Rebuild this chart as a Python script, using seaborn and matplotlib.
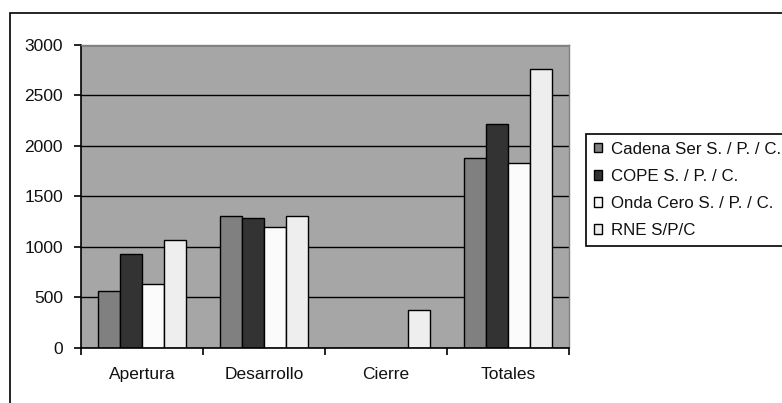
import matplotlib
matplotlib.use("Agg")
import matplotlib.pyplot as plt
from matplotlib.patches import Rectangle
import seaborn as sns
import pandas as pd

# Audience figures by programme section and station
categories = ["Apertura", "Desarrollo", "Cierre", "Totales"]
stations = ["Cadena Ser S. / P. / C.", "COPE S. / P. / C.",
            "Onda Cero S. / P. / C.", "RNE S/P/C"]
cadena_ser = [560, 1300, 0, 1875]
cope = [930, 1285, 0, 2220]
onda_cero = [625, 1200, 0, 1830]
rne = [1070, 1300, 375, 2760]
y_ticks = [0, 500, 1000, 1500, 2000, 2500, 3000]

series = [cadena_ser, cope, onda_cero, rne]
df = pd.DataFrame({
    "categoria": [c for _ in stations for c in categories],
    "emisora": [s for s in stations for _ in categories],
    "valor": [v for vals in series for v in vals],
})

palette = ["#808080", "#333333", "#fbfbfb", "#eeeeee"]

sns.set_theme(style="white")
plt.rcParams["font.family"] = ["Liberation Sans", "DejaVu Sans"]

fig = plt.figure(figsize=(7.82, 4.03), dpi=100)
ax = fig.add_axes([81 / 782, 1 - 347.5 / 403, (569 - 81) / 782, (347.5 - 45) / 403])
ax.set_facecolor("#a6a6a6")

sns.barplot(data=df, x="categoria", y="valor", hue="emisora",
            order=categories, hue_order=stations, palette=palette,
            width=4 / 5.5, edgecolor="black", linewidth=1.0,
            saturation=1, ax=ax, legend=True)

ax.set_xlim(-0.5, len(categories) - 0.5)
ax.set_ylim(0, 3000)
ax.set_yticks(y_ticks)
ax.set_yticklabels([str(t) for t in y_ticks])
ax.set_xlabel("")
ax.set_ylabel("")

ax.set_axisbelow(True)
ax.yaxis.grid(True, color="black", linewidth=1.0)
ax.xaxis.grid(False)

for side in ("top", "right"):
    ax.spines[side].set_color("#808080")
    ax.spines[side].set_linewidth(1.0)
for side in ("left", "bottom"):
    ax.spines[side].set_color("black")
    ax.spines[side].set_linewidth(1.2)

ax.tick_params(axis="y", which="major", direction="out", length=5, width=1.2,
               color="black", pad=8, labelsize=12.5, labelcolor="#111111", left=True)
ax.tick_params(axis="x", which="major", length=0, pad=14,
               labelsize=12.5, labelcolor="#111111")
ax.set_xticks([i - 0.5 for i in range(len(categories) + 1)], minor=True)
ax.tick_params(axis="x", which="minor", direction="out", length=5, width=1.2,
               color="black", bottom=True)

handles, labels = ax.get_legend_handles_labels()
ax.legend_.remove()
leg = fig.legend(handles, labels, loc="upper left",
                 bbox_to_anchor=(586 / 782, 1 - 134 / 403),
                 bbox_transform=fig.transFigure,
                 frameon=True, fancybox=False, shadow=False, framealpha=1,
                 edgecolor="black", fontsize=12.2, handlelength=0.5,
                 handleheight=0.5, handletextpad=0.5, labelspacing=0.72,
                 borderpad=0.45, borderaxespad=0)
leg.get_frame().set_linewidth(1.2)
for t in leg.get_texts():
    t.set_color("#111111")

# Outer chart frame, running off the right and bottom edges
fig.add_artist(Rectangle((10 / 782, -0.1), 1.2, (403 - 13) / 403 + 0.1,
                         transform=fig.transFigure, fill=False,
                         edgecolor="black", linewidth=1.2, clip_on=False))

fig.savefig("out.png", dpi=100, facecolor="white")
